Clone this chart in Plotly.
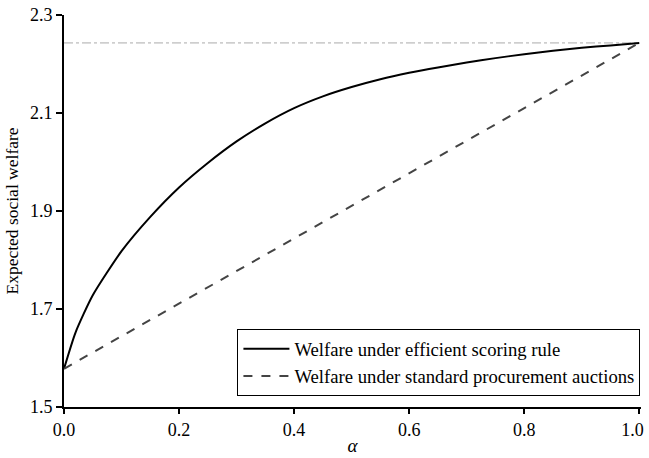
import plotly.graph_objects as go

alpha = [0.0, 0.02, 0.05, 0.1, 0.15, 0.2, 0.25, 0.3, 0.35, 0.4, 0.45, 0.5,
         0.55, 0.6, 0.65, 0.7, 0.75, 0.8, 0.85, 0.9, 0.95, 1.0]
welfare_efficient = [1.578, 1.652, 1.728, 1.818, 1.888, 1.948, 1.998, 2.042, 2.079,
                     2.110, 2.134, 2.153, 2.169, 2.182, 2.193, 2.203, 2.212, 2.220,
                     2.227, 2.233, 2.238, 2.243]
alpha_std = [0.0, 1.0]
welfare_standard = [1.578, 2.243]
upper_bound = 2.243

y_ticks = [1.5, 1.7, 1.9, 2.1, 2.3]
x_ticks = [0.0, 0.2, 0.4, 0.6, 0.8, 1.0]
x_tick_labels = ["0.0", "0.2", "0.4", "0.6", "0.8", "1.0&nbsp;&nbsp;&nbsp;"]

serif = "Liberation Serif"

fig = go.Figure()
fig.add_trace(go.Scatter(x=[0, 1.0], y=[upper_bound, upper_bound], mode="lines",
                         line=dict(color="#aaaaaa", width=1, dash="dashdot"),
                         showlegend=False, hoverinfo="skip"))
fig.add_trace(go.Scatter(x=alpha, y=welfare_efficient, mode="lines",
                         line=dict(color="black", width=2, shape="spline", smoothing=0.6),
                         name="Welfare under efficient scoring rule"))
fig.add_trace(go.Scatter(x=alpha_std, y=welfare_standard, mode="lines",
                         line=dict(color="#444444", width=2, dash="dash"),
                         name="Welfare under standard procurement auctions"))

fig.update_layout(
    width=649, height=458,
    margin=dict(l=64, r=8, t=15, b=51, autoexpand=False),
    paper_bgcolor="white", plot_bgcolor="white",
    font=dict(family=serif, size=18, color="black"),
    xaxis=dict(range=[0, 1.003], tickvals=x_ticks, ticktext=x_tick_labels,
               showgrid=False, zeroline=False, showline=True, linecolor="black", linewidth=2,
               ticks="outside", ticklen=5, tickwidth=1.5, tickcolor="black",
               automargin=False, ticklabeloverflow="allow",
               tickfont=dict(family=serif, size=18),
               title=dict(text="<i>α</i>", font=dict(family=serif, size=19), standoff=0)),
    yaxis=dict(range=[1.5, 2.3], tickvals=y_ticks, ticktext=["%.1f" % v for v in y_ticks],
               showgrid=False, zeroline=False, showline=True, linecolor="black", linewidth=2,
               ticks="outside", ticklen=6, tickwidth=1.5, tickcolor="black",
               automargin=False, ticklabeloverflow="allow",
               tickfont=dict(family=serif, size=18),
               title=dict(text="Expected social welfare", font=dict(family=serif, size=17.5), standoff=7)),
    legend=dict(x=0.999, y=0.028, xanchor="right", yanchor="bottom",
                bordercolor="black", borderwidth=1, bgcolor="white",
                font=dict(family=serif, size=18.7), tracegroupgap=0, itemwidth=46),
)

fig.write_html("out.html", config={"displayModeBar": False},
               post_script="document.body.style.margin='0px';")
